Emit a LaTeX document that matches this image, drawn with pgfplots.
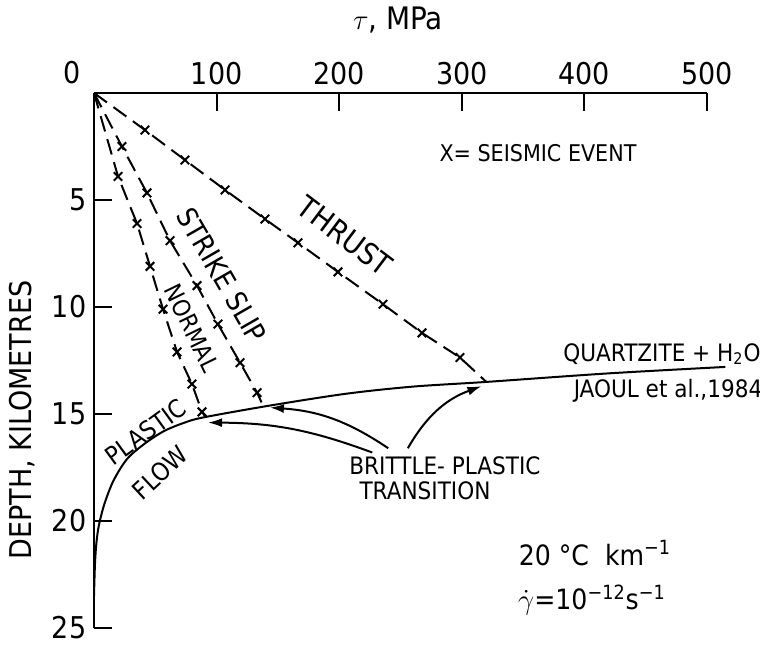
\documentclass[border=0pt]{standalone}
\usepackage{pgfplots}
\pgfplotsset{compat=1.18}
\usepackage{fontspec}
\setmainfont{DejaVu Sans Condensed}
\usetikzlibrary{arrows.meta}
\newcommand{\fs}[1]{\fontsize{#1}{#1}\selectfont}
\begin{document}
\begin{tikzpicture}
\useasboundingbox (0,0) rectangle (380pt,-324pt);
\begin{axis}[
  at={(47pt,-46.5pt)}, anchor=north west,
  scale only axis, width=306.5pt, height=267.5pt,
  xmin=0, xmax=500, ymin=0, ymax=25,
  y dir=reverse,
  axis x line=top, axis y line=left,
  axis line style={-, line width=1pt},
  tick align=inside, major tick length=9pt,
  every tick/.style={line width=1pt, black},
  xtick={100,200,300,400,500},
  ytick={5,10,15,20,25},
  tick label style={font=\fs{15}},
  /pgf/number format/assume math mode=true,
  clip=false,
  line width=1pt,
]
% Thrust
\addplot[black, dash pattern=on 8pt off 4pt] coordinates {
 (0,0) (41.6,1.73) (74.2,3.13) (106.9,4.53) (139.5,5.89) (166.4,7.0) (199,8.36) (235.7,9.87) (267.5,11.21) (298.5,12.36) (320,13.5)};
\addplot[black, only marks, mark=x, mark size=3pt] coordinates {
 (41.6,1.73) (74.2,3.13) (106.9,4.53) (139.5,5.89) (166.4,7.0) (199,8.36) (235.7,9.87) (267.5,11.21) (298.5,12.36)};
% Strike slip
\addplot[black, dash pattern=on 8pt off 4pt] coordinates {
 (0,0) (22.8,2.5) (43.2,4.67) (62.0,6.9) (84.0,9.0) (101.1,10.8) (119.1,12.6) (133.0,14.0) (137,14.5)};
\addplot[black, only marks, mark=x, mark size=3pt] coordinates {
 (22.8,2.5) (43.2,4.67) (62.0,6.9) (84.0,9.0) (101.1,10.8) (119.1,12.6) (133.0,14.0)};
% Normal
\addplot[black, dash pattern=on 8pt off 4pt] coordinates {
 (0,0) (19.6,3.9) (35.1,6.1) (45.7,8.1) (56.3,10.1) (67.7,12.1) (79.9,13.6) (88.1,14.9) (90.5,15.1)};
\addplot[black, only marks, mark=x, mark size=3pt] coordinates {
 (19.6,3.9) (35.1,6.1) (45.7,8.1) (56.3,10.1) (67.7,12.1) (79.9,13.6) (88.1,14.9)};
% Plastic flow (quartzite + H2O)
\addplot[black, smooth, tension=0.5] coordinates {
 (0,23.5) (0.8,22) (2,21) (4,20.2) (8.5,19.2) (16,18.1) (27,17.1) (41,16.4) (57,15.8) (74,15.4) (90,15.15) (144,14.6) (206,14.05) (260,13.72) (320,13.5) (420,13.1) (515,12.8)};
% arrows
\draw[-{Latex[length=7pt,width=4.5pt]}, line width=1pt] (axis cs:227,16.8) to[bend right=10] (axis cs:93,15.4);
\draw[-{Latex[length=7pt,width=4.5pt]}, line width=1pt] (axis cs:240,16.6) to[bend right=15] (axis cs:143.5,14.7);
\draw[-{Latex[length=7pt,width=4.5pt]}, line width=1pt] (axis cs:256,16.6) to[bend left=20] (axis cs:316,13.7);
\end{axis}
\begin{scope}[x=0.5pt,y=-0.5pt]
\node[font=\fs{15}] at (72,73) {0};
\node[font=\fs{15.5}] at (398,20) {$\tau$, MPa};
\node[font=\fs{15}, rotate=90] at (22,420) {DEPTH, KILOMETRES};
\node[font=\fs{11.5}] at (538,153) {X= SEISMIC  EVENT};
\node[font=\fs{15}, rotate=-37] at (345,236) {THRUST};
\node[font=\fs{14}, rotate=-60] at (222,275) {STRIKE SLIP};
\node[font=\fs{12}, rotate=-64] at (192,328) {NORMAL};
\node[font=\fs{12.5}, rotate=36] at (146,432) {PLASTIC};
\node[font=\fs{12.5}, rotate=43] at (160,473) {FLOW};
\node[font=\fs{12}] at (662,354) {QUARTZITE + H\textsubscript{2}O};
\node[font=\fs{12}] at (668,391) {JAOUL et al.,1984};
\node[font=\fs{12}] at (445,466) {BRITTLE- PLASTIC};
\node[font=\fs{12}] at (425,491) {TRANSITION};
\node[font=\fs{14}] at (595,553) {20 °C\ \ km\textsuperscript{−1}};
\node[font=\fs{14}] at (592,600) {$\dot{\gamma}$=10\textsuperscript{−12}s\textsuperscript{−1}};
\end{scope}
\end{tikzpicture}
\end{document}
